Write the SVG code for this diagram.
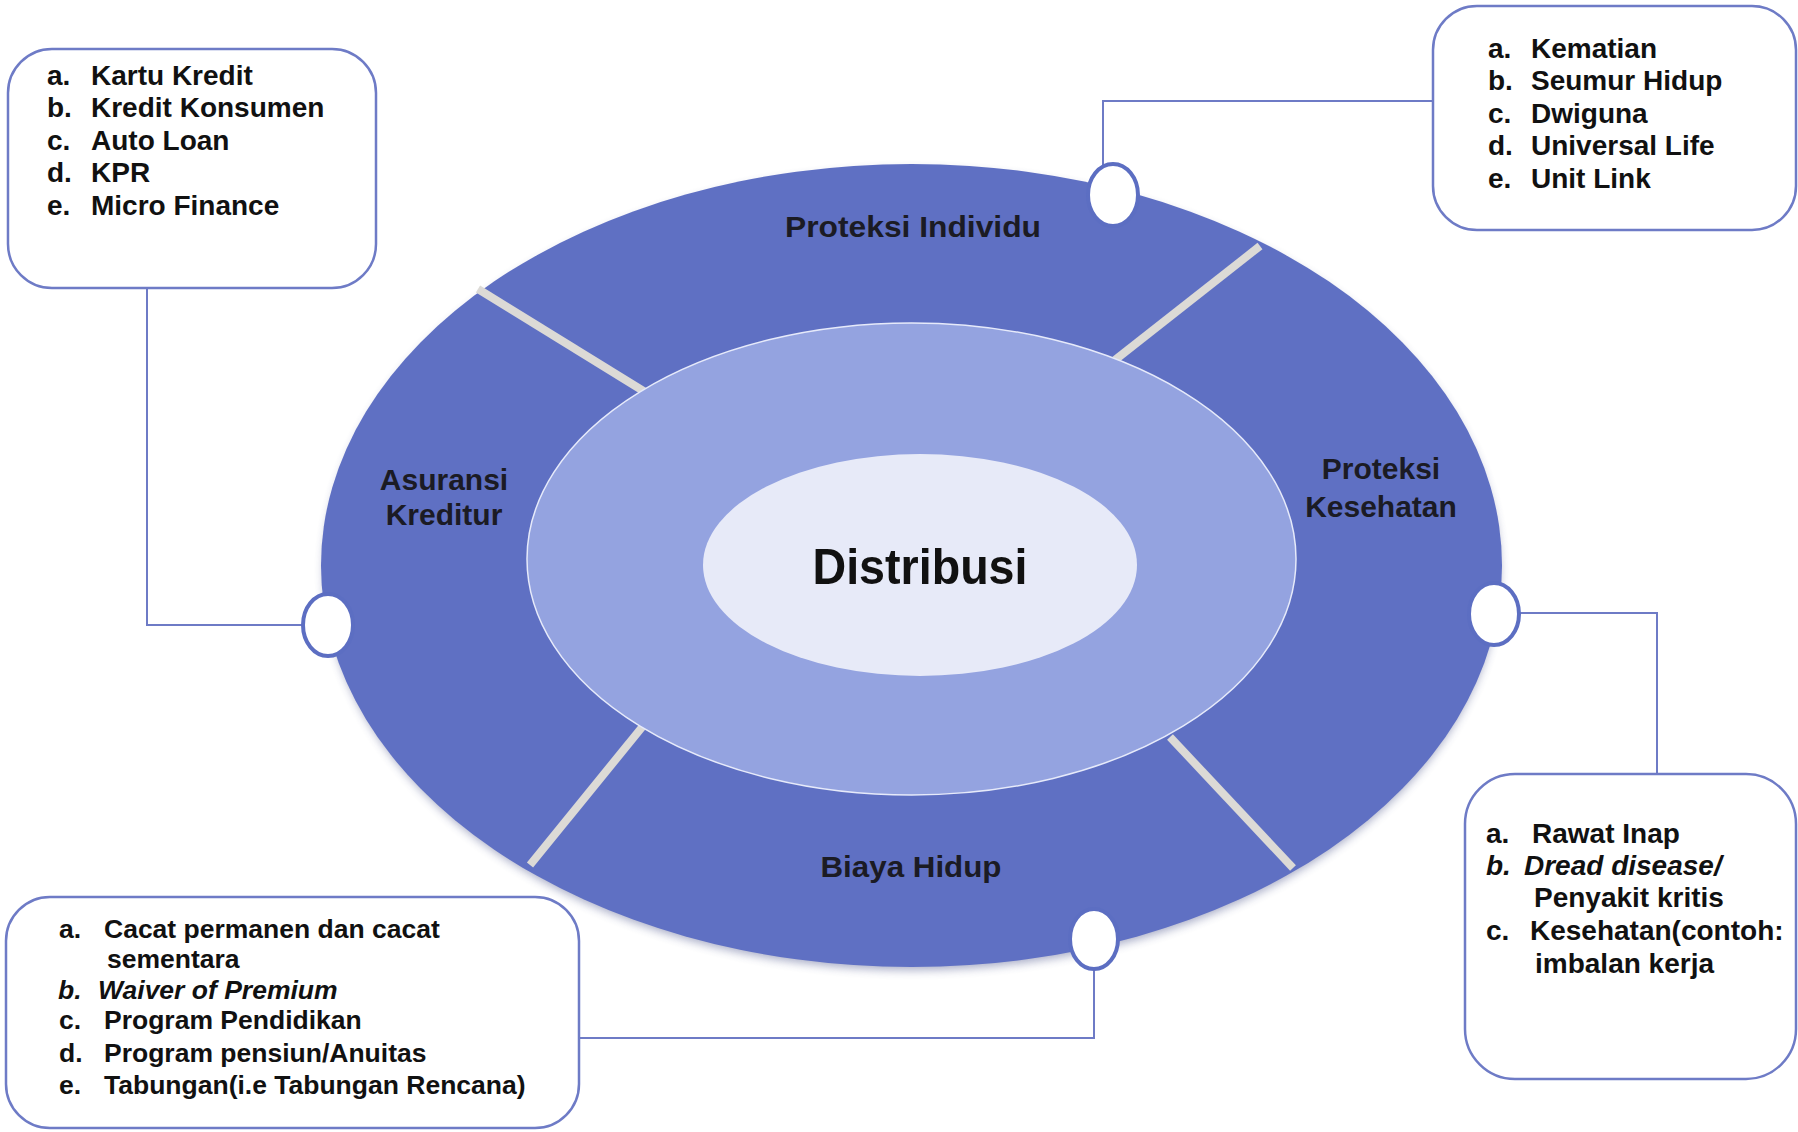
<svg xmlns="http://www.w3.org/2000/svg" width="1798" height="1132" viewBox="0 0 1798 1132">
<defs>
<style>
.box{fill:#ffffff;stroke:#6e7bc6;stroke-width:2.5}
.t{font-family:"Liberation Sans",Arial,sans-serif;font-weight:bold;fill:#111111}
.bx{font-size:28px}
.bl{font-size:26.5px}
.it{font-style:italic}
.ring{font-family:"Liberation Sans",Arial,sans-serif;font-weight:bold;font-size:30px;fill:#1b1b24;text-anchor:middle}
.sep{stroke:#dcdad6;stroke-width:8;stroke-linecap:butt}
.con{fill:none;stroke:#6e7bc6;stroke-width:2}
.port{fill:#ffffff;stroke:#5c6ec2;stroke-width:4}
</style>
<filter id="sh" x="-10%" y="-10%" width="120%" height="130%">
<feGaussianBlur stdDeviation="5"/>
</filter>
</defs>
<rect width="1798" height="1132" fill="#ffffff"/>

<g id="ring">
<ellipse cx="912" cy="570" rx="588" ry="400" fill="#3b4580" opacity="0.45" filter="url(#sh)"/>
<ellipse cx="911.5" cy="565.5" rx="590.5" ry="401.5" fill="#5f70c3"/>
<line class="sep" x1="478" y1="289" x2="645" y2="392"/>
<line class="sep" x1="1260" y1="246" x2="1115" y2="360"/>
<line class="sep" x1="643" y1="726" x2="530" y2="865"/>
<line class="sep" x1="1170" y1="737" x2="1293" y2="868"/>
</g>

<g id="middle">
<ellipse cx="911.5" cy="559" rx="384.5" ry="236" fill="#94a3e0" stroke="#e6eafa" stroke-width="1.5"/>
</g>

<g id="distribusi">
<ellipse cx="920" cy="565" rx="217" ry="111" fill="#e7eaf8"/>
<text class="t" x="920" y="584" font-size="50" text-anchor="middle" textLength="215" lengthAdjust="spacingAndGlyphs">Distribusi</text>
</g>

<g id="seg-proteksi-individu">
<text class="ring" x="913" y="237" textLength="256" lengthAdjust="spacingAndGlyphs">Proteksi Individu</text>
</g>
<g id="seg-asuransi-kreditur">
<text class="ring" x="444" y="490">Asuransi</text>
<text class="ring" x="444" y="525">Kreditur</text>
</g>
<g id="seg-proteksi-kesehatan">
<text class="ring" x="1381" y="479">Proteksi</text>
<text class="ring" x="1381" y="517">Kesehatan</text>
</g>
<g id="seg-biaya-hidup">
<text class="ring" x="911" y="877" textLength="181" lengthAdjust="spacingAndGlyphs">Biaya Hidup</text>
</g>

<g id="connectors">
<polyline class="con" points="147,288 147,625 304,625"/>
<polyline class="con" points="1103,165 1103,101 1433,101"/>
<polyline class="con" points="1519,613 1657,613 1657,774"/>
<polyline class="con" points="1094,970 1094,1038 579,1038"/>
<ellipse class="port" cx="328" cy="625" rx="25" ry="31"/>
<ellipse class="port" cx="1113" cy="195" rx="25" ry="31"/>
<ellipse class="port" cx="1494" cy="614" rx="25" ry="31"/>
<ellipse class="port" cx="1094" cy="939" rx="24" ry="30"/>
</g>

<g id="box-kredit">
<rect class="box" x="8" y="49" width="368" height="239" rx="44"/>
<text class="t bx" x="47" y="85">a.</text><text class="t bx" x="91" y="85">Kartu Kredit</text>
<text class="t bx" x="47" y="117">b.</text><text class="t bx" x="91" y="117">Kredit Konsumen</text>
<text class="t bx" x="47" y="150">c.</text><text class="t bx" x="91" y="150">Auto Loan</text>
<text class="t bx" x="47" y="182">d.</text><text class="t bx" x="91" y="182">KPR</text>
<text class="t bx" x="47" y="215">e.</text><text class="t bx" x="91" y="215">Micro Finance</text>
</g>

<g id="box-individu">
<rect class="box" x="1433" y="6" width="363" height="224" rx="44"/>
<text class="t bx" x="1488" y="58">a.</text><text class="t bx" x="1531" y="58">Kematian</text>
<text class="t bx" x="1488" y="90">b.</text><text class="t bx" x="1531" y="90">Seumur Hidup</text>
<text class="t bx" x="1488" y="123">c.</text><text class="t bx" x="1531" y="123">Dwiguna</text>
<text class="t bx" x="1488" y="155">d.</text><text class="t bx" x="1531" y="155">Universal Life</text>
<text class="t bx" x="1488" y="188">e.</text><text class="t bx" x="1531" y="188">Unit Link</text>
</g>

<g id="box-kesehatan">
<rect class="box" x="1465" y="774" width="331" height="305" rx="50"/>
<text class="t bx" x="1486" y="843">a.</text><text class="t bx" x="1532" y="843">Rawat Inap</text>
<text class="t bx it" x="1486" y="875">b.</text><text class="t bx it" x="1524" y="875">Dread disease/</text>
<text class="t bx" x="1534" y="907">Penyakit kritis</text>
<text class="t bx" x="1486" y="940">c.</text><text class="t bx" x="1530" y="940">Kesehatan(contoh:</text>
<text class="t bx" x="1535" y="973">imbalan kerja</text>
</g>

<g id="box-biaya">
<rect class="box" x="6" y="897" width="573" height="231" rx="44"/>
<text class="t bl" x="59" y="938">a.</text><text class="t bl" x="104" y="938">Cacat permanen dan cacat</text>
<text class="t bl" x="107" y="968">sementara</text>
<text class="t bl it" x="58" y="999">b.</text><text class="t bl it" x="98" y="999">Waiver of Premium</text>
<text class="t bl" x="59" y="1029">c.</text><text class="t bl" x="104" y="1029">Program Pendidikan</text>
<text class="t bl" x="59" y="1062">d.</text><text class="t bl" x="104" y="1062">Program pensiun/Anuitas</text>
<text class="t bl" x="59" y="1094">e.</text><text class="t bl" x="104" y="1094">Tabungan(i.e Tabungan Rencana)</text>
</g>
</svg>
